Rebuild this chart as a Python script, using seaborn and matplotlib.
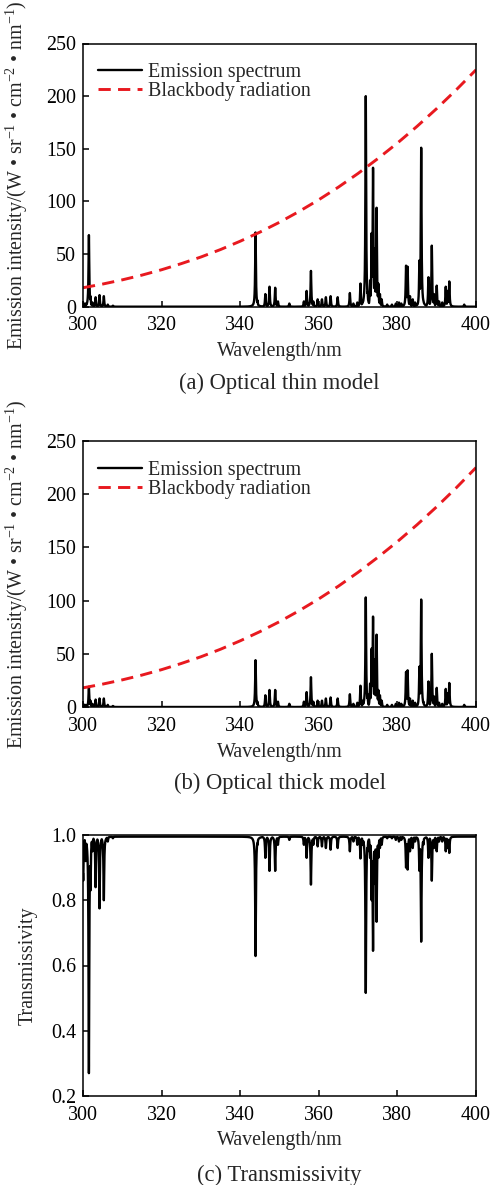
import numpy as np
import pandas as pd
import matplotlib
matplotlib.use("Agg")
import matplotlib.pyplot as plt
import seaborn as sns

# ---- spectral lines (centre wavelength, nm) ----
line_nm = [300.05, 300.7, 301.5, 301.9, 302.4, 303.2, 304.2, 305.3, 306.3, 307.6,
           343.9, 344.4, 346.4, 347.45, 348.9, 349.6, 352.5, 356.2, 356.9, 358.0,
           358.6, 359.7, 360.8, 361.8, 363.0, 364.8, 367.9, 368.8, 369.8, 370.6,
           371.2, 371.95, 372.4, 373.05, 373.45, 373.8, 374.25, 374.7, 375.15, 375.55,
           376.0, 377.4, 378.6, 379.6, 380.4, 381.0, 382.2, 382.6, 383.2, 383.9,
           384.5, 385.6, 386.05, 386.6, 387.9, 388.75, 389.3, 390.0, 390.6, 391.4,
           392.3, 392.8, 393.2, 397.0]

# peak emission intensity, optically thin model (W sr^-1 cm^-2 nm^-1)
thin_peak = [4, 3, 68, 10, 4, 9, 11, 10, 2, 1,
             70.5, 6, 12, 19, 18, 5, 3, 5, 15, 34,
             5, 7, 7, 9, 10, 9, 13, 3, 4, 22,
             6, 200, 14, 25, 70, 132, 55, 94, 22, 12,
             7, 2, 2, 3, 4, 3, 39, 38, 10, 7,
             4, 44, 151, 6, 28, 58, 12, 20, 5, 4,
             19, 15, 24, 2]

# peak emission intensity, optically thick model
thick_peak = [3, 2, 19, 6, 3, 7, 8, 8, 2, 1,
              44, 5, 11, 16, 16, 5, 3, 5, 14, 28,
              5, 6, 6, 8, 9, 8, 12, 3, 4, 20,
              6, 103, 12, 22, 55, 85, 45, 68, 16, 11,
              6, 2, 2, 3, 4, 3, 33, 34.5, 8, 6,
              4, 38, 101, 5, 24, 50, 10, 18, 4, 3,
              17, 13, 22.6, 2]

# minimum transmissivity at each line
trans_min = [0.86, 0.92, 0.27, 0.83, 0.95, 0.84, 0.775, 0.80, 0.98, 0.99,
             0.629, 0.97, 0.93, 0.89, 0.89, 0.97, 0.985, 0.97, 0.93, 0.848,
             0.97, 0.965, 0.965, 0.96, 0.955, 0.96, 0.95, 0.98, 0.97, 0.928,
             0.97, 0.516, 0.95, 0.93, 0.80, 0.645, 0.85, 0.734, 0.93, 0.96,
             0.97, 0.99, 0.99, 0.985, 0.98, 0.985, 0.90, 0.894, 0.95, 0.96,
             0.98, 0.89, 0.673, 0.97, 0.93, 0.86, 0.96, 0.95, 0.98, 0.98,
             0.95, 0.96, 0.945, 0.995]
trans_base = 0.995  # transmissivity away from the lines

# blackbody radiation curve
bb_nm = [300, 305, 310, 315, 320, 325, 330, 335, 340, 345, 350,
         355, 360, 365, 370, 375, 380, 385, 390, 395, 400]
bb_val = [18.0, 21.5, 25.5, 30.0, 35.1, 40.9, 47.2, 54.3, 62.2, 70.8, 80.2,
          90.5, 101.6, 113.6, 126.6, 140.6, 155.4, 171.3, 188.2, 206.1, 225.0]

x_ticks = [300, 320, 340, 360, 380, 400]
em_ticks = [0, 50, 100, 150, 200, 250]
tr_ticks = [0.2, 0.4, 0.6, 0.8, 1.0]

# ---- line profiles ----
HWHM = 0.11
wl = np.round(np.arange(300.0, 400.0001, 0.01), 3)


def line_profile(heights):
    c = np.asarray(line_nm)[:, None]
    h = np.asarray(heights, dtype=float)[:, None]
    prof = h / (1.0 + ((wl[None, :] - c) / HWHM) ** 2)
    return prof.max(axis=0)


df = pd.DataFrame({
    "wavelength": wl,
    "thin": line_profile(thin_peak),
    "thick": line_profile(thick_peak),
    "trans": trans_base - line_profile([trans_base - t for t in trans_min]),
})
bb = pd.DataFrame({"wavelength": bb_nm, "bb": bb_val})

# ---- style ----
sns.set_theme(style="white")
plt.rcParams["font.family"] = ["Liberation Serif", "DejaVu Serif"]
plt.rcParams["mathtext.fontset"] = "custom"
plt.rcParams["mathtext.rm"] = "Liberation Serif"
plt.rcParams["mathtext.it"] = "Liberation Serif:italic"
plt.rcParams["axes.edgecolor"] = "black"
plt.rcParams["axes.linewidth"] = 1.1

FS = 14.4
CAP_FS = 16.3
RED = "#e8191f"
W, H = 492, 1185
fig = plt.figure(figsize=(W / 100, H / 100), dpi=100)


def axes_px(left, top, right, bottom):
    return fig.add_axes([left / W, 1 - bottom / H, (right - left) / W, (bottom - top) / H])


ax_a = axes_px(83, 43.5, 476, 306.7)
ax_b = axes_px(83, 441, 476, 707)
ax_c = axes_px(83, 835, 476, 1096)

em_label = "Emission intensity/(W • sr$^{-1}$ • cm$^{-2}$ • nm$^{-1}$)"

for ax, col in ((ax_a, "thin"), (ax_b, "thick")):
    sns.lineplot(data=df, x="wavelength", y=col, ax=ax, color="black", lw=1.7,
                 estimator=None, label="Emission spectrum")
    sns.lineplot(data=bb, x="wavelength", y="bb", ax=ax, color=RED, lw=2.1,
                 linestyle=(0, (4.2, 2.5)), estimator=None, label="Blackbody radiation")
    ax.set_ylim(0, 250)
    ax.set_yticks(em_ticks)
    ax.set_ylabel(em_label, fontsize=FS)
    ax.yaxis.set_label_coords(-0.135, 0.5)
    ax.legend(loc="upper left", bbox_to_anchor=(0.038, 0.925), frameon=False,
              fontsize=FS, handlelength=2.2, handletextpad=0.3, labelspacing=0.0,
              borderpad=0, borderaxespad=0)

sns.lineplot(data=df, x="wavelength", y="trans", ax=ax_c, color="black", lw=1.7,
             estimator=None)
ax_c.set_ylim(0.2, 1.0)
ax_c.set_yticks(tr_ticks)
ax_c.set_yticklabels([f"{t:.1f}" for t in tr_ticks])
ax_c.set_ylabel("Transmissivity", fontsize=FS)
ax_c.yaxis.set_label_coords(-0.115, 0.5)

for ax in (ax_a, ax_b, ax_c):
    ax.set_xlim(300, 400)
    ax.set_xticks(x_ticks)
    ax.set_xlabel("Wavelength/nm", fontsize=FS)
    ax.xaxis.set_label_coords(0.5, -0.135)
    ax.tick_params(direction="in", length=4.3, width=1.1, labelsize=FS,
                   colors="black", top=False, right=False, bottom=True, left=True)
    ax.tick_params(axis="x", pad=7)
    ax.tick_params(axis="y", pad=5)
    for s in ax.spines.values():
        s.set_visible(True)
        s.set_color("black")
        s.set_linewidth(1.1)

cx = 279.5 / W
fig.text(cx, 1 - 383 / H, "(a) Optical thin model", ha="center", va="center", fontsize=CAP_FS)
fig.text(cx, 1 - 783 / H, "(b) Optical thick model", ha="center", va="center", fontsize=CAP_FS)
fig.text(cx, 1 - 1175 / H, "(c) Transmissivity", ha="center", va="center", fontsize=CAP_FS)

fig.savefig("out.png", dpi=100, facecolor="white")
